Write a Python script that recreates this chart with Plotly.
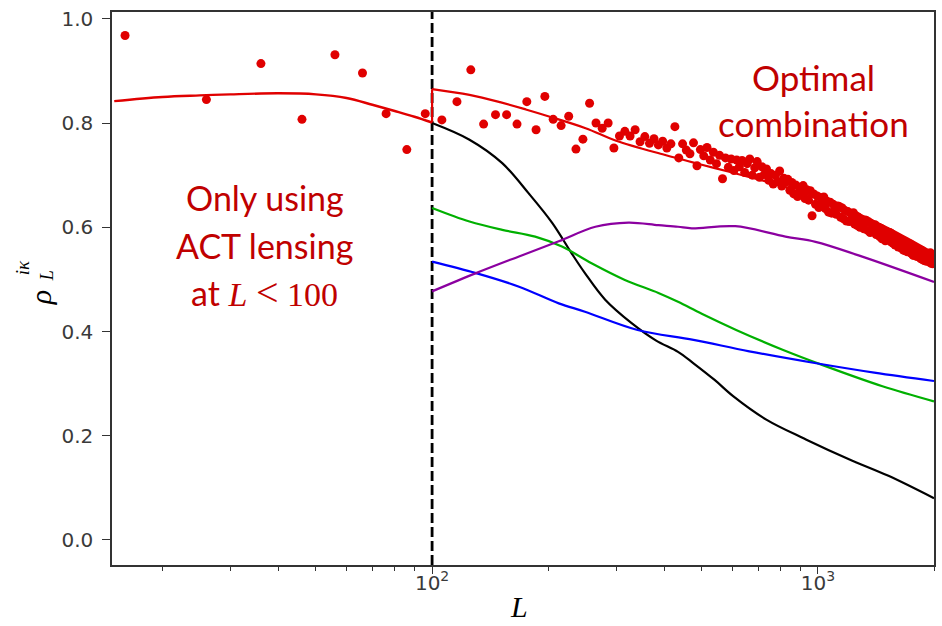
import numpy as np
import plotly.graph_objects as go

# ---------------- data ----------------
# binned points (bin centres, width 10)
L_bins = np.arange(16, 2000, 10)
rho_bins = [
    0.968, 0.845, 0.914, 0.807, 0.931, 0.896, 0.818, 0.749, 0.818,
    0.806, 0.841, 0.902, 0.798, 0.816, 0.816, 0.798, 0.841, 0.787, 0.851,
    0.807, 0.795, 0.813, 0.750, 0.769, 0.838, 0.800, 0.790, 0.800, 0.752,
    0.775, 0.784, 0.775, 0.787, 0.764, 0.774, 0.761, 0.770, 0.758, 0.765,
    0.752, 0.760, 0.793,
    0.733, 0.760, 0.748, 0.741, 0.762, 0.718, 0.749, 0.737, 0.753, 0.729,
    0.744, 0.722, 0.738, 0.693, 0.733, 0.715, 0.731, 0.709, 0.729, 0.716,
    0.728, 0.705, 0.722, 0.731, 0.700, 0.714, 0.726, 0.696, 0.716, 0.701,
    0.712, 0.690, 0.703, 0.683, 0.700, 0.688, 0.708, 0.679, 0.694, 0.686,
    0.692, 0.671, 0.686, 0.664, 0.681, 0.659, 0.677, 0.668, 0.680, 0.655,
    0.672, 0.652, 0.670, 0.622, 0.664, 0.644, 0.660, 0.638, 0.657, 0.646,
    0.658, 0.636, 0.650, 0.629, 0.648, 0.627, 0.644, 0.633, 0.625, 0.641,
    0.640, 0.619, 0.637, 0.616, 0.632, 0.612, 0.630, 0.611, 0.627, 0.615,
    0.628, 0.606, 0.622, 0.603, 0.619, 0.600, 0.616, 0.605, 0.597, 0.614,
    0.613, 0.594, 0.610, 0.590, 0.607, 0.592, 0.598, 0.605, 0.586, 0.600,
    0.600, 0.582, 0.598, 0.578, 0.595, 0.584, 0.574, 0.592, 0.580, 0.588,
    0.590, 0.572, 0.587, 0.569, 0.583, 0.566, 0.581, 0.570, 0.562, 0.578,
    0.577, 0.560, 0.575, 0.556, 0.572, 0.555, 0.569, 0.553, 0.567, 0.558,
    0.568, 0.550, 0.565, 0.546, 0.562, 0.548, 0.560, 0.544, 0.553, 0.557,
    0.557, 0.540, 0.556, 0.538, 0.553, 0.536, 0.551, 0.535, 0.548, 0.544,
    0.549, 0.533, 0.551, 0.531, 0.547, 0.530, 0.543,
]

# red theory curve, L < 100 (ACT lensing only)
L_red_low = [15, 20, 25, 30, 40, 50, 60, 70, 80, 90, 100]
rho_red_low = [0.842, 0.850, 0.853, 0.855, 0.857, 0.855, 0.848, 0.835, 0.823, 0.812, 0.801]

# red theory curve, L >= 100 (optimal combination)
L_red_high = [100, 125, 150, 175, 200, 250, 300, 400, 500, 600, 800, 1000, 1300, 1600, 2000]
rho_red_high = [0.865, 0.854, 0.840, 0.826, 0.813, 0.790, 0.766, 0.739, 0.720, 0.705,
                0.680, 0.655, 0.622, 0.590, 0.550]

L_black = [100, 125, 152, 178, 205, 230, 249, 281, 329, 380, 434, 476, 540, 603, 735, 931, 1204, 1524, 2000]
rho_black = [0.800, 0.768, 0.723, 0.665, 0.608, 0.550, 0.512, 0.461, 0.416, 0.383, 0.361,
             0.339, 0.307, 0.276, 0.231, 0.193, 0.155, 0.123, 0.080]

L_green = [100, 125, 152, 185, 217, 259, 316, 386, 434, 500, 614, 810, 1025, 1470, 2000]
rho_green = [0.637, 0.611, 0.595, 0.582, 0.563, 0.531, 0.499, 0.474, 0.457, 0.434, 0.403,
             0.365, 0.336, 0.295, 0.266]

L_blue = [100, 130, 168, 213, 249, 341, 476, 664, 990, 1400, 2000]
rho_blue = [0.534, 0.512, 0.486, 0.454, 0.438, 0.403, 0.384, 0.362, 0.339, 0.321, 0.305]

L_purple = [100, 130, 168, 213, 265, 323, 386, 434, 471, 611, 824, 986, 1275, 2000]
rho_purple = [0.477, 0.512, 0.544, 0.573, 0.601, 0.609, 0.604, 0.601, 0.598, 0.602,
              0.582, 0.572, 0.546, 0.495]

L_SPLIT = 100
X_RANGE = [14.8, 2000]
Y_RANGE = [-0.048, 1.013]
major_ticks = [100, 1000]
major_text = ["10<sup>2</sup>", "10<sup>3</sup>"]
minor_ticks = [20, 30, 40, 50, 60, 70, 80, 90, 200, 300, 400, 500, 600, 700, 800, 900, 2000]
y_ticks = [0.0, 0.2, 0.4, 0.6, 0.8, 1.0]

# ---------------- figure ----------------
RED = "#e00000"
fig = go.Figure()

# vertical dashed separator at L = 100
fig.add_trace(go.Scatter(x=[L_SPLIT, L_SPLIT], y=Y_RANGE, mode="lines",
                         line=dict(color="black", width=2.8, dash="10px,4px")))

fig.add_trace(go.Scatter(x=L_red_low, y=rho_red_low, mode="lines",
                         line=dict(color=RED, width=2.4, shape="spline")))
fig.add_trace(go.Scatter(x=L_black, y=rho_black, mode="lines",
                         line=dict(color="black", width=2.2, shape="spline")))
fig.add_trace(go.Scatter(x=L_green, y=rho_green, mode="lines",
                         line=dict(color="#00b000", width=2.2, shape="spline")))
fig.add_trace(go.Scatter(x=L_blue, y=rho_blue, mode="lines",
                         line=dict(color="#0000ff", width=2.2, shape="spline")))
fig.add_trace(go.Scatter(x=L_purple, y=rho_purple, mode="lines",
                         line=dict(color="#8b00a0", width=2.2, shape="spline")))
fig.add_trace(go.Scatter(x=L_red_high, y=rho_red_high, mode="lines",
                         line=dict(color=RED, width=2.2, shape="spline")))
fig.add_trace(go.Scatter(x=[L_SPLIT, L_SPLIT], y=[rho_red_low[-1], rho_red_high[0]], mode="lines",
                         line=dict(color=RED, width=2.2)))
fig.add_trace(go.Scatter(x=L_bins, y=rho_bins, mode="markers",
                         marker=dict(color=RED, size=9, line=dict(width=0))))

TICKFONT = dict(family="DejaVu Sans", size=20, color="#3a3a3a")
fig.update_xaxes(type="log", range=[np.log10(X_RANGE[0]), np.log10(X_RANGE[1])],
                 tickmode="array", tickvals=major_ticks, ticktext=major_text,
                 ticks="outside", ticklen=7, tickwidth=1.3, tickcolor="#333",
                 ticklabelstandoff=-8,
                 minor=dict(tickmode="array", tickvals=minor_ticks, ticks="outside",
                            ticklen=4, tickwidth=1, tickcolor="#333"),
                 showline=True, linecolor="#333", linewidth=1.5, mirror=True,
                 showgrid=False, zeroline=False, tickfont=TICKFONT)
fig.update_yaxes(range=Y_RANGE, tickmode="array", tickvals=y_ticks,
                 ticktext=[f"{v:.1f}" for v in y_ticks],
                 ticks="outside", ticklen=8, tickwidth=1.3, tickcolor="#333",
                 ticklabelstandoff=5,
                 showline=True, linecolor="#333", linewidth=1.5, mirror=True,
                 showgrid=False, zeroline=False, tickfont=TICKFONT)

PL, PT, PW, PH = 112, 12, 824, 553


def px2paper(px, py):
    return (px - PL) / PW, (PT + PH - py) / PH


TXT = "#c00000"
left_lines = [
    ("Only using", 197),
    ("ACT lensing", 245),
    ("at <span style='font-family:Liberation Serif'><i>L</i> <span style='font-size:40px'>&lt;</span> 100</span>", 292),
]
for txt, py in left_lines:
    xp, yp = px2paper(265, py)
    fig.add_annotation(xref="paper", yref="paper", x=xp, y=yp, xanchor="center", yanchor="middle",
                       text=txt, showarrow=False, font=dict(family="Lato", size=34, color=TXT))

right_lines = [("Optimal", 77), ("combination", 123)]
for txt, py in right_lines:
    xp, yp = px2paper(815, py)
    fig.add_annotation(xref="paper", yref="paper", x=xp, y=yp, xanchor="center", yanchor="middle",
                       text=txt, showarrow=False, font=dict(family="Lato", size=35, color=TXT))

SERIF = "Liberation Serif"
xp, yp = px2paper(520, 606)
fig.add_annotation(xref="paper", yref="paper", x=xp, y=yp, xanchor="center", yanchor="middle",
                   text="<i>L</i>", showarrow=False,
                   font=dict(family=SERIF, size=30, color="black"))
# y-axis label rho_L^{i kappa}
for txt, (px, py), size in [("<i>ρ</i>", (40, 298), 30),
                            ("<i>L</i>", (47, 276), 18),
                            ("<i>iκ</i>", (22, 268), 19)]:
    xp, yp = px2paper(px, py)
    fig.add_annotation(xref="paper", yref="paper", x=xp, y=yp, xanchor="center", yanchor="middle",
                       textangle=-90, text=txt, showarrow=False,
                       font=dict(family=SERIF, size=size, color="black"))

fig.update_layout(width=942, height=626, showlegend=False,
                  margin=dict(l=PL, r=942 - PL - PW, t=PT, b=626 - PT - PH),
                  paper_bgcolor="white", plot_bgcolor="white")

fig.write_html("out.html", config={"displayModeBar": False},
               post_script="document.body.style.margin='0px';")
